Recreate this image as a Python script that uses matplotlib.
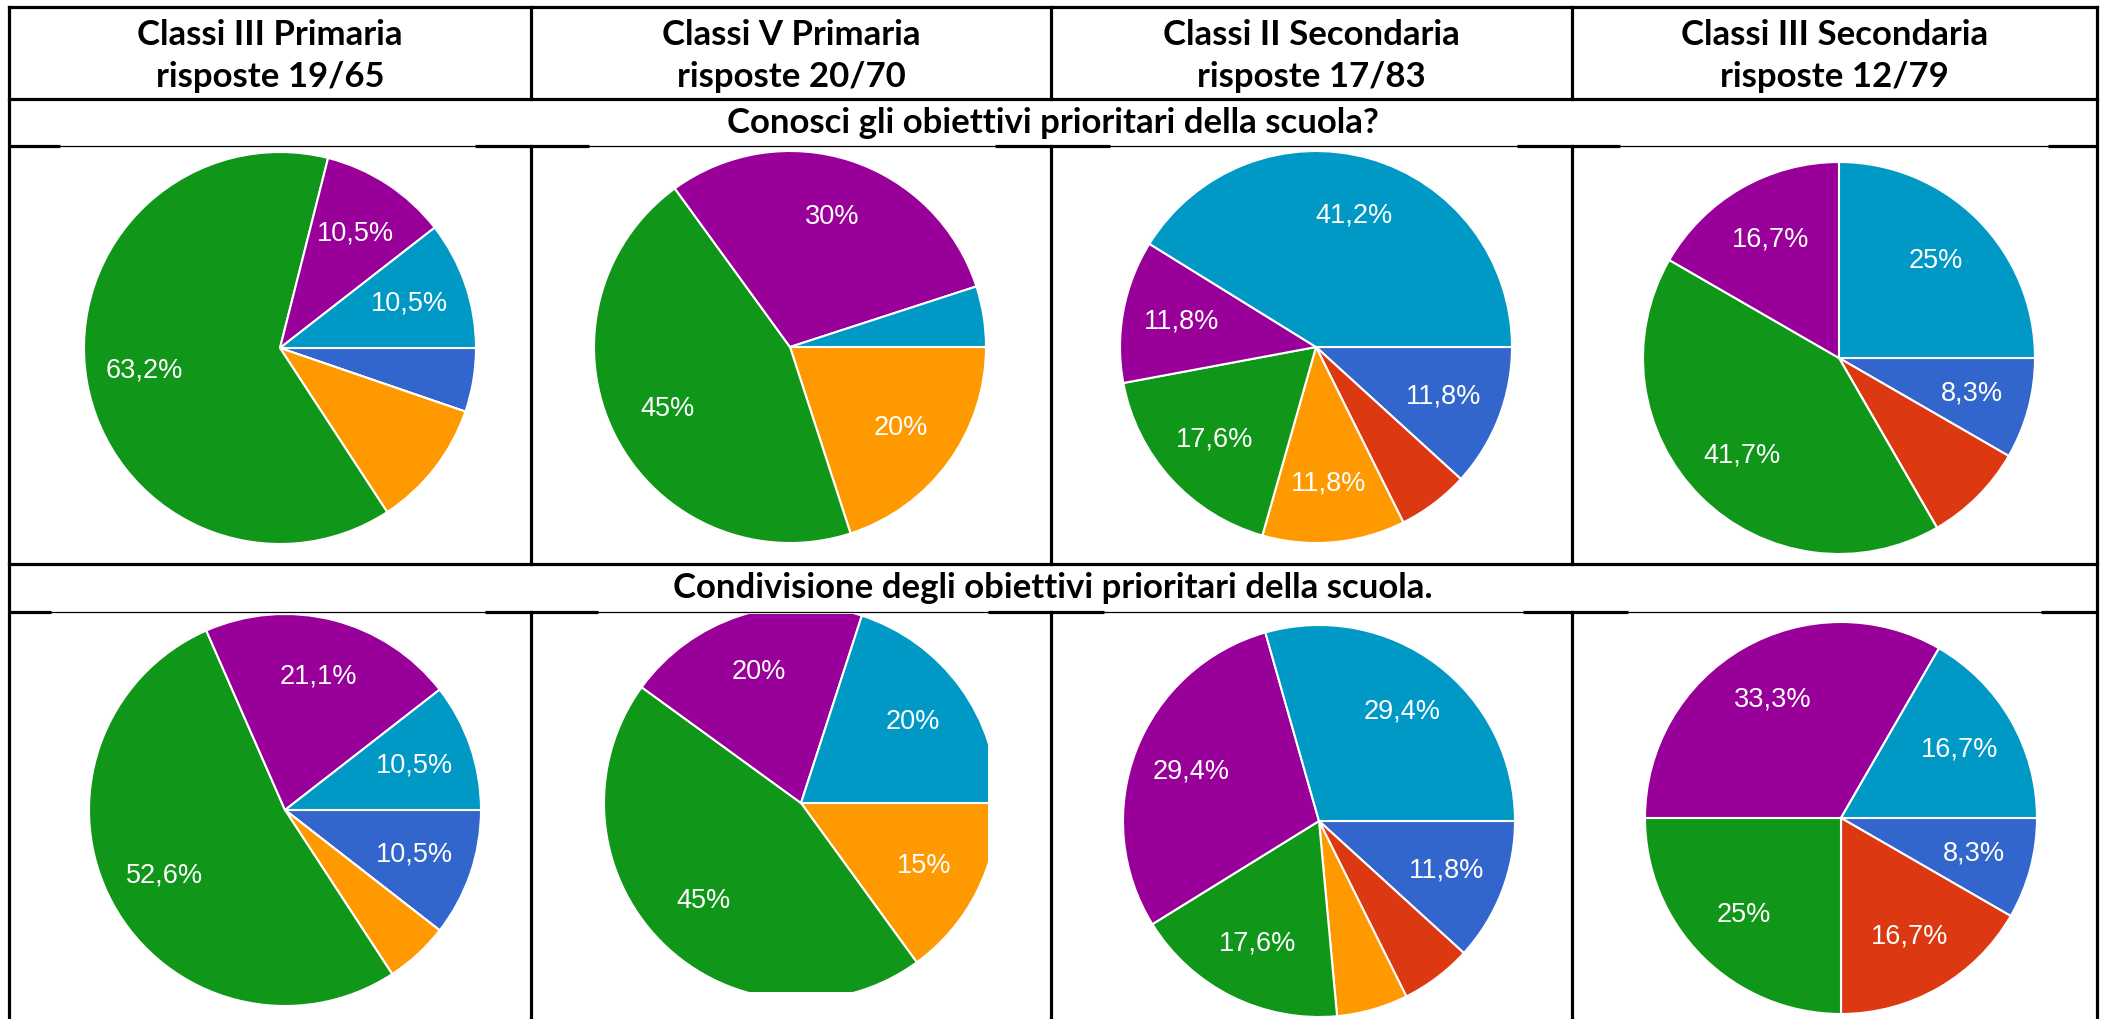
import matplotlib
matplotlib.use('Agg')
import matplotlib.pyplot as plt

W, H = 2103, 1019

# --- data ---
classi = ['Classi III Primaria', 'Classi V Primaria', 'Classi II Secondaria', 'Classi III Secondaria']
risposte = ['risposte 19/65', 'risposte 20/70', 'risposte 17/83', 'risposte 12/79']
domande = ['Conosci gli obiettivi prioritari della scuola?',
           'Condivisione degli obiettivi prioritari della scuola.']

# slice order (clockwise from 3 o'clock), google palette
colori = ['#3366CC', '#DC3912', '#FF9900', '#109618', '#990099', '#0099C6']

q1_counts = [[1, 0, 2, 12, 2, 2],
             [0, 0, 4, 9, 6, 1],
             [2, 1, 2, 3, 2, 7],
             [1, 1, 0, 5, 2, 3]]
q1_labels = [['', '', '', '63,2%', '10,5%', '10,5%'],
             ['', '', '20%', '45%', '30%', ''],
             ['11,8%', '', '11,8%', '17,6%', '11,8%', '41,2%'],
             ['8,3%', '', '', '41,7%', '16,7%', '25%']]

q2_counts = [[2, 0, 1, 10, 4, 2],
             [0, 0, 3, 9, 4, 4],
             [2, 1, 1, 3, 5, 5],
             [1, 2, 0, 3, 4, 2]]
q2_labels = [['10,5%', '', '', '52,6%', '21,1%', '10,5%'],
             ['', '', '15%', '45%', '20%', '20%'],
             ['11,8%', '', '', '17,6%', '29,4%', '29,4%'],
             ['8,3%', '16,7%', '', '25%', '33,3%', '16,7%']]

# --- layout (pixels) ---
col_x = [9, 531, 1051, 1572, 2097]
row_y = [7, 99, 146, 564, 612, H]

# pie centre / radius and image boxes (x0, x1, y0, y1)
pie_geo = [[(280, 348, 196), (790, 347, 196), (1316, 347, 196), (1839, 358, 196)],
           [(285, 810, 196), (801, 803, 197), (1319, 821, 196), (1841, 818, 196)]]
img_box = [[(60, 475, 147, 563), (589, 995, 147, 563), (1110, 1517, 147, 563), (1620, 2048, 147, 563)],
           [(51, 485, 614, H), (598, 988, 614, 992), (1104, 1523, 614, H), (1628, 2041, 614, H)]]

fig = plt.figure(figsize=(W / 100, H / 100), dpi=100)

head_font = 'Lato'
lab_font = 'Liberation Sans'
head_size = 25

all_counts = [q1_counts, q2_counts]
all_labels = [q1_labels, q2_labels]
for r in range(2):
    for c in range(4):
        cx, cy, rad = pie_geo[r][c]
        x0, x1, y0, y1 = img_box[r][c]
        ax = fig.add_axes([x0 / W, 1 - y1 / H, (x1 - x0) / W, (y1 - y0) / H], zorder=1)
        wedges, texts = ax.pie(all_counts[r][c], colors=colori, labels=all_labels[r][c],
                               startangle=0, counterclock=False, labeldistance=0.7,
                               wedgeprops=dict(edgecolor='white', linewidth=1.5),
                               textprops=dict(color='white', fontsize=19.5, family=lab_font))
        for w in wedges:
            w.set_clip_on(True)
        for t in texts:
            t.set_ha('center')
            t.set_va('center')
        ax.set_aspect('auto')
        ax.set_xlim((x0 - cx) / rad, (x1 - cx) / rad)
        ax.set_ylim((cy - y1) / rad, (cy - y0) / rad)
        ax.axis('off')

# table overlay
ov = fig.add_axes([0, 0, 1, 1], zorder=3)
ov.set_xlim(0, W)
ov.set_ylim(H, 0)
ov.axis('off')
ov.patch.set_alpha(0)

lw = 2.3
# outer verticals
ov.plot([col_x[0], col_x[0]], [row_y[0], H], color='black', lw=lw)
ov.plot([col_x[-1], col_x[-1]], [row_y[0], H], color='black', lw=lw)
# inner verticals, broken at the merged rows
for x in col_x[1:-1]:
    for ya, yb in [(row_y[0], row_y[1]), (row_y[2], row_y[3]), (row_y[4], row_y[5])]:
        ov.plot([x, x], [ya, yb], color='black', lw=lw)
# horizontals
for y in [row_y[0], row_y[1], row_y[3]]:
    ov.plot([col_x[0], col_x[-1]], [y, y], color='black', lw=lw)
# rows above the pictures: thick in the gaps, thin over the pictures
for r, y in enumerate([row_y[2], row_y[4]]):
    xs = [col_x[0]]
    for b in img_box[r]:
        xs += [b[0], b[1]]
    xs.append(col_x[-1])
    for i in range(0, len(xs), 2):
        ov.plot([xs[i], xs[i + 1]], [y, y], color='black', lw=lw, solid_capstyle='butt')
    for b in img_box[r]:
        ov.plot([b[0], b[1]], [y, y], color='black', lw=0.9)

for i in range(4):
    xm = (col_x[i] + col_x[i + 1]) / 2
    ov.text(xm, 35, classi[i], ha='center', va='center', fontsize=head_size,
            fontweight='bold', family=head_font)
    ov.text(xm, 77, risposte[i], ha='center', va='center', fontsize=head_size,
            fontweight='bold', family=head_font)

xm = (col_x[0] + col_x[-1]) / 2
ov.text(xm, (row_y[1] + row_y[2]) / 2, domande[0], ha='center', va='center',
        fontsize=head_size, fontweight='bold', family=head_font)
ov.text(xm, (row_y[3] + row_y[4]) / 2, domande[1], ha='center', va='center',
        fontsize=head_size, fontweight='bold', family=head_font)

fig.savefig('out.png', dpi=100, facecolor='white')
